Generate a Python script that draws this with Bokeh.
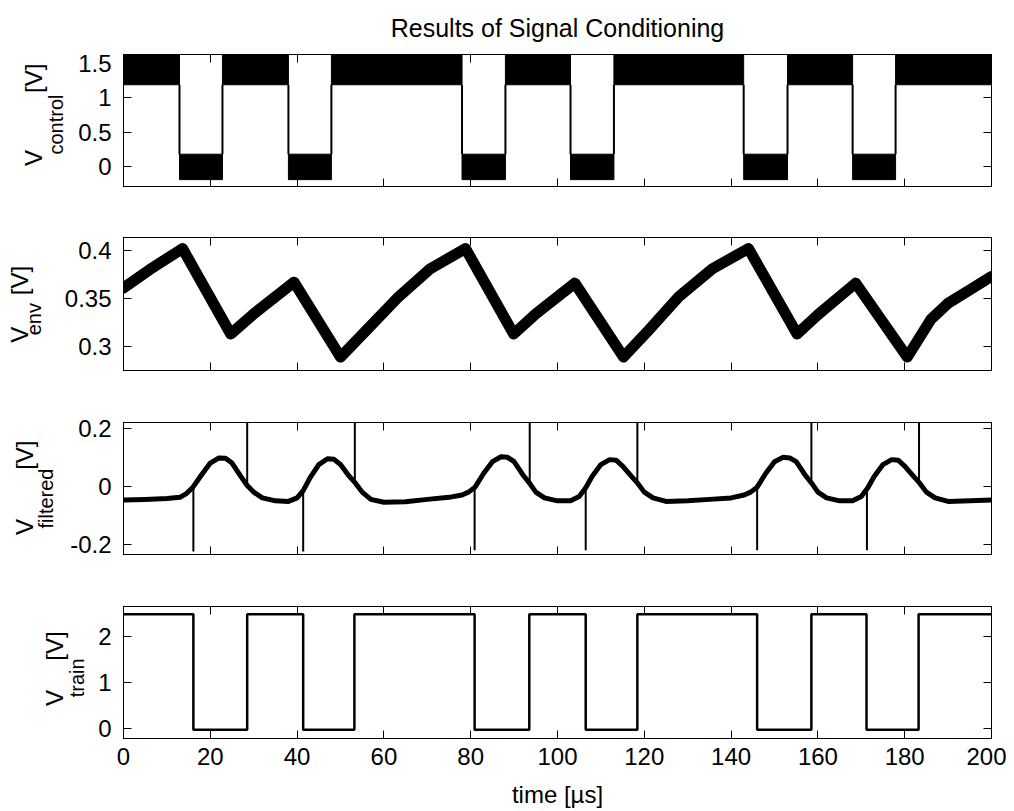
from bokeh.plotting import figure
from bokeh.layouts import column, row
from bokeh.models import LinearAxis, FixedTicker, Range1d
from bokeh.core.properties import value
from bokeh.embed import file_html
from bokeh.resources import INLINE

FONT = "Liberation Sans"

# ---------------- data ----------------
x_ticks = [0, 20, 40, 60, 80, 100, 120, 140, 160, 180, 200]
x_tick_labels = ["0", "20", "40", "60", "80", "100", "120", "140", "160", "180", "200"]

# Panel 1: V_control (noisy two-level signal, shown as bands)
ctrl_edges = [0, 12.9, 22.8, 38.0, 47.9, 78.0, 88.0, 103.0, 113.0, 142.9, 153.0, 168.0, 177.9, 200]
ctrl_state = [1, 0, 1, 0, 1, 0, 1, 0, 1, 0, 1, 0, 1]
ctrl_high_band = [1.19, 1.70]
ctrl_low_band = [-0.19, 0.18]
ctrl_yticks = [0, 0.5, 1, 1.5]
ctrl_ylabels = ["0", "0.5", "1", "1.5"]

# Panel 2: V_env
env_t = [0, 6, 13.6, 24.7, 30, 39.3, 50, 56, 63, 70.7, 78.8, 89.9, 95, 104,
         115.2, 121, 128, 135.7, 144, 155.2, 160, 168.7, 180.6, 186, 190, 195, 200]
env_v = [0.361, 0.380, 0.402, 0.313, 0.334, 0.367, 0.289, 0.317, 0.350, 0.381, 0.402, 0.313, 0.334, 0.366,
         0.289, 0.317, 0.352, 0.381, 0.402, 0.313, 0.333, 0.366, 0.289, 0.328, 0.345, 0.359, 0.373]
env_yticks = [0.3, 0.35, 0.4]
env_ylabels = ["0.3", "0.35", "0.4"]

# Panel 3: V_filtered
filt_t = [0, 5, 10, 13, 14.5, 16, 18, 20, 22, 23.5, 25, 27, 28.5, 30, 32, 35, 38, 40, 41.4, 43, 45, 47, 48.5,
          50, 52, 53.5, 55, 57, 60, 65, 70, 75, 78, 79.5, 81, 83, 85, 87, 88.5, 90, 92, 93.6, 95, 97, 100,
          103, 105, 106.5, 108, 110, 112, 113.5, 115, 117, 118.5, 120, 122, 125, 130, 135, 140, 143, 144.5,
          146, 148, 150, 152, 153.5, 155, 157, 158.6, 160, 162, 165, 168, 170, 171.5, 173, 175, 177, 178.5,
          180, 182, 183.5, 185, 187, 190, 195, 200]
filt_v = [-0.047, -0.045, -0.042, -0.038, -0.025, -0.003, 0.040, 0.080, 0.098, 0.097, 0.080, 0.035, 0.003,
          -0.020, -0.040, -0.050, -0.052, -0.040, -0.015, 0.030, 0.075, 0.095, 0.093,
          0.075, 0.035, 0.010, -0.020, -0.045, -0.055, -0.053, -0.045, -0.038, -0.030, -0.020, -0.003,
          0.045, 0.085, 0.102, 0.100, 0.085, 0.040, 0.010, -0.020, -0.040, -0.050,
          -0.050, -0.035, -0.005, 0.035, 0.075, 0.092, 0.090, 0.070, 0.035, 0.010, -0.020, -0.040, -0.052,
          -0.050, -0.045, -0.040, -0.030, -0.020,
          -0.003, 0.045, 0.085, 0.100, 0.098, 0.085, 0.040, 0.010, -0.020, -0.040, -0.050, -0.050, -0.035,
          -0.005, 0.035, 0.075, 0.092, 0.090,
          0.070, 0.035, 0.010, -0.020, -0.040, -0.052, -0.050, -0.047]
spike_t = [16.1, 28.5, 41.4, 53.3, 80.9, 93.6, 106.5, 118.4, 146.0, 158.5, 171.3, 183.3]
spike_from = [-0.005, 0.005, -0.015, 0.015, -0.005, 0.012, -0.010, 0.012, -0.005, 0.012, -0.010, 0.012]
spike_to = [-0.225, 0.23, -0.225, 0.23, -0.22, 0.23, -0.22, 0.23, -0.22, 0.23, -0.22, 0.23]
filt_yticks = [-0.2, 0, 0.2]
filt_ylabels = ["-0.2", "0", "0.2"]

# Panel 4: V_train
train_edges = [0, 16.1, 28.5, 41.4, 53.2, 80.9, 93.5, 106.5, 118.4, 146.0, 158.5, 171.2, 183.2, 200]
train_levels = [2.48, -0.03, 2.48, -0.03, 2.48, -0.03, 2.48, -0.03, 2.48, -0.03, 2.48, -0.03, 2.48]
train_yticks = [0, 1, 2]
train_ylabels = ["0", "1", "2"]

title_text = "Results of Signal Conditioning"
xlabel_text = "time [\u00b5s]"
ylabel_subscripts = ["control", "env", "filtered", "train"]

# ---------------- layout constants (page pixels) ----------------
FW = 868          # frame width
LEFT = 123        # total space left of the frames
RIGHT = 15
TOTAL_W = LEFT + FW + RIGHT
TICK_FS = "24px"
MAIN_FS = "24px"
SUB_FS = "20px"


def style_axis(ax, ticks, labels, show, standoff):
    ax.ticker = FixedTicker(ticks=ticks)
    if show:
        ax.major_label_overrides = {t: l for t, l in zip(ticks, labels)}
        ax.major_label_text_font_size = TICK_FS
        ax.major_label_standoff = standoff
    else:
        ax.major_label_overrides = {t: "" for t in ticks}
        ax.major_label_text_font_size = "1px"
        ax.major_label_standoff = 0
    ax.major_tick_in = 8
    ax.major_tick_out = 0
    ax.minor_tick_in = 0
    ax.minor_tick_out = 0
    ax.major_tick_line_color = "black"
    ax.major_tick_line_width = 1
    ax.axis_line_color = "black"
    ax.axis_line_width = 1
    ax.major_label_text_font = FONT
    ax.major_label_text_color = "black"
    ax.axis_label = None


def make_fig(ylim, yticks, ylabels, lab_w, top, fh, bottom, show_x):
    p = figure(width=TOTAL_W - lab_w, height=top + fh + bottom, frame_width=FW, frame_height=fh,
               x_range=Range1d(0, 200), y_range=Range1d(*ylim),
               output_backend="svg", toolbar_location=None,
               min_border_left=LEFT - lab_w, min_border_right=RIGHT,
               min_border_top=top, min_border_bottom=bottom)
    p.grid.visible = False
    p.outline_line_color = "black"
    p.background_fill_color = "white"
    p.border_fill_color = "white"
    style_axis(p.xaxis[0], x_ticks, x_tick_labels, show_x, 9)
    style_axis(p.yaxis[0], yticks, ylabels, True, 12)
    top_ax = LinearAxis()
    style_axis(top_ax, x_ticks, x_tick_labels, False, 0)
    p.add_layout(top_ax, "above")
    right_ax = LinearAxis()
    style_axis(right_ax, yticks, ylabels, False, 0)
    p.add_layout(right_ax, "right")
    return p


def text_fig(w, h):
    f = figure(width=w, height=h, x_range=Range1d(0, w), y_range=Range1d(0, h),
               output_backend="svg", toolbar_location=None,
               x_axis_location=None, y_axis_location=None,
               min_border=0, min_border_left=0, min_border_right=0, min_border_top=0, min_border_bottom=0)
    f.grid.visible = False
    f.outline_line_color = None
    f.background_fill_color = "white"
    f.border_fill_color = "white"
    return f


def ylabel_fig(w, h, page_bottom, sub, v_xy, s_xy, u_xy):
    """Rotated y label "V_sub [V]"; each piece placed by its centre (page px)."""
    f = text_fig(w, h)
    common = dict(angle=1.5707963, text_color="black", text_font=value(FONT),
                  text_align="center", text_baseline="middle")
    f.text(x=[v_xy[0], u_xy[0]], y=[page_bottom - v_xy[1], page_bottom - u_xy[1]], text=["V", "[V]"],
           text_font_size=MAIN_FS, **common)
    f.text(x=[s_xy[0]], y=[page_bottom - s_xy[1]], text=[sub], text_font_size=SUB_FS, **common)
    return f


# ---------------- title strip ----------------
TITLE_H = 48
tfig = text_fig(TOTAL_W, TITLE_H)
tfig.text(x=[LEFT + FW / 2], y=[TITLE_H - 27], text=[title_text], text_font=value(FONT),
          text_font_size="25px", text_color="black", text_align="center", text_baseline="middle")

# ---------------- panel 1 (page 48 .. 212) ----------------
W1 = 66
p1 = make_fig((-0.29, 1.63), ctrl_yticks, ctrl_ylabels, W1, 6, 132, 26, False)
left = ctrl_edges[:-1]
right = ctrl_edges[1:]
bot = [ctrl_high_band[0] if s else ctrl_low_band[0] for s in ctrl_state]
topv = [ctrl_high_band[1] if s else ctrl_low_band[1] for s in ctrl_state]
p1.quad(left=left, right=right, bottom=bot, top=topv, fill_color="black", line_color="black", line_width=1)
trans = ctrl_edges[1:-1]
p1.segment(x0=trans, y0=[ctrl_high_band[0]] * len(trans), x1=trans, y1=[ctrl_low_band[1]] * len(trans),
           line_color="black", line_width=2)
l1 = ylabel_fig(W1, 164, 212, ylabel_subscripts[0], (33, 176.5), (55, 135), (33, 77.5))

# ---------------- panel 2 (page 212 .. 396) ----------------
W2 = 44
p2 = make_fig((0.275, 0.4135), env_yticks, env_ylabels, W2, 25, 133, 26, False)
p2.line(env_t, env_v, line_color="black", line_width=11, line_join="round", line_cap="round")
l2 = ylabel_fig(W2, 184, 396, ylabel_subscripts[1], (19, 346.5), (33, 325), (19, 271.5))

# ---------------- panel 3 (page 396 .. 580) ----------------
W3 = 56
p3 = make_fig((-0.235, 0.22), filt_yticks, filt_ylabels, W3, 26, 132, 26, False)
p3.line(filt_t, filt_v, line_color="black", line_width=5, line_join="round")
p3.segment(x0=spike_t, y0=spike_from, x1=spike_t, y1=spike_to, line_color="black", line_width=2)
l3 = ylabel_fig(W3, 184, 580, ylabel_subscripts[2], (24, 541.5), (45, 502), (24, 441.5))

# ---------------- panel 4 (page 580 .. 780) ----------------
W4 = 87
p4 = make_fig((-0.22, 2.65), train_yticks, train_ylabels, W4, 26, 132, 42, True)
p4.step(train_edges, train_levels + [train_levels[-1]], mode="after", line_color="black", line_width=2.5)
l4 = ylabel_fig(W4, 200, 780, ylabel_subscripts[3], (54, 718.5), (76, 688), (54, 640))

# ---------------- x label strip (page 780 .. 809) ----------------
XL_H = 29
xfig = text_fig(TOTAL_W, XL_H)
xfig.text(x=[LEFT + FW / 2], y=[XL_H - 14], text=[xlabel_text], text_font=value(FONT),
          text_font_size="24px", text_color="black", text_align="center", text_baseline="middle")

layout = column(tfig, row(l1, p1), row(l2, p2), row(l3, p3), row(l4, p4), xfig)
open("out.html", "w").write(file_html(layout, INLINE, title="Results of Signal Conditioning"))
